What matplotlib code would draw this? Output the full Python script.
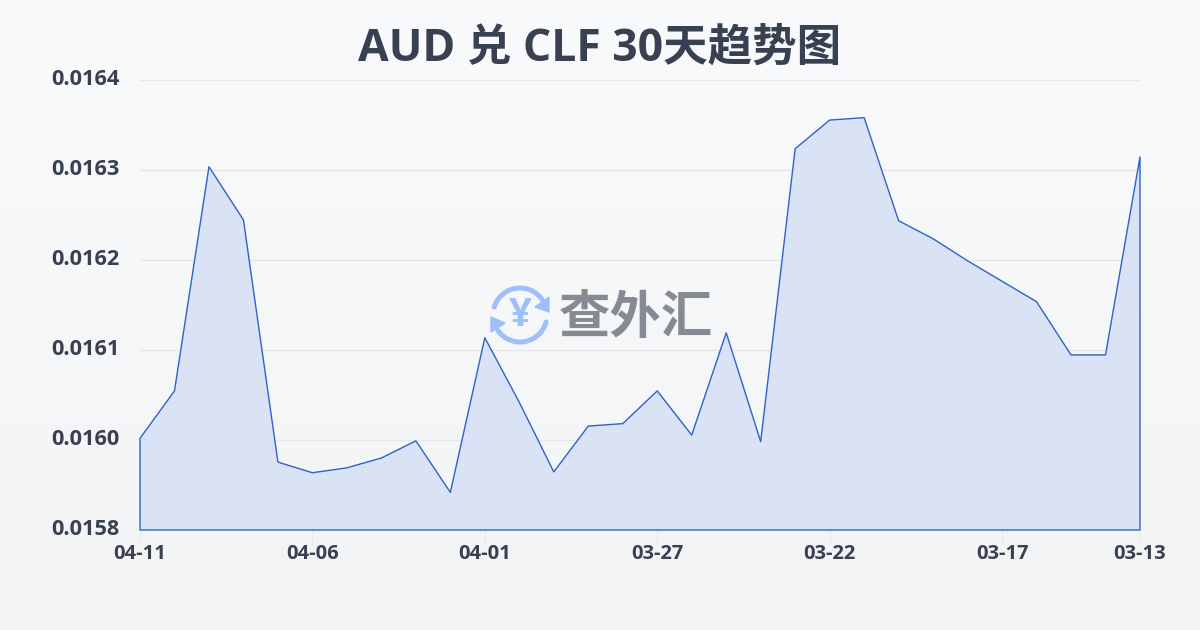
import numpy as np
import matplotlib
matplotlib.use("Agg")
import matplotlib.pyplot as plt
from matplotlib.patches import Polygon
from matplotlib.transforms import ScaledTranslation

plt.rcParams['font.family'] = ['Open Sans', 'Noto Sans CJK SC', 'DejaVu Sans']

TITLE = "AUD 兑 CLF 30天趋势图"
dates = ["04-11", "04-10", "04-09", "04-08", "04-07", "04-06", "04-05", "04-04", "04-03", "04-02",
         "04-01", "03-31", "03-30", "03-29", "03-28", "03-27", "03-26", "03-25", "03-24", "03-23",
         "03-22", "03-21", "03-20", "03-19", "03-18", "03-17", "03-16", "03-15", "03-14", "03-13"]
rates = [0.015952, 0.016010, 0.016284, 0.016219, 0.015923, 0.015910, 0.015916, 0.015928, 0.015949, 0.015886,
         0.016075, 0.015996, 0.015911, 0.015967, 0.015970, 0.016010, 0.015956, 0.016081, 0.015948, 0.016306,
         0.016341, 0.016344, 0.016218, 0.016196, 0.016169, 0.016144, 0.016119, 0.016054, 0.016054, 0.016296]
# evenly spaced ticks, the labels are those values rounded to 4 places
y_ticks = [0.01584, 0.01595, 0.01606, 0.01617, 0.01628, 0.01639]
y_labels = ["0.0158", "0.0160", "0.0161", "0.0162", "0.0163", "0.0164"]

TEXT = "#374151"
LINE = "#2f62c8"
BLUE = "#9dbffa"

W, H = 1200, 630
fig = plt.figure(figsize=(12, 6.3), dpi=100)

# page background
bg = fig.add_axes([0, 0, 1, 1], zorder=0)
bg.set_xlim(0, W)
bg.set_ylim(H, 0)
bg.axis("off")
grad = np.linspace(0, 1, 256).reshape(-1, 1)
c1, c2 = np.array([0xf9, 0xfa, 0xfc]), np.array([0xf3, 0xf4, 0xf6])
bg.imshow((c1 + (c2 - c1) * grad[..., None]) / 255, extent=[0, W, H, 0], aspect="auto")

ax = fig.add_axes([140 / W, (H - 530) / H, 1000 / W, 450 / H], zorder=1)
ax.patch.set_alpha(0)
x = np.arange(len(rates))
ax.fill_between(x, rates, y_ticks[0], facecolor="#dae3f5", edgecolor="none", zorder=2)
ax.fill_between(x, rates, y_ticks[0], facecolor="none", edgecolor=LINE, linewidth=1.0, zorder=3, clip_on=False)
ax.set_xlim(0, len(rates) - 1)
ax.set_ylim(y_ticks[0], y_ticks[-1])

ax.set_yticks(y_ticks)
ax.set_yticklabels(y_labels, fontsize=15.7, fontweight="bold", color=TEXT)
ax.set_xticks(x[::5].tolist() + [x[-1]])
ax.set_xticklabels(dates[::5] + [dates[-1]], fontsize=14.5, fontweight="bold", color=TEXT)
ax.tick_params(axis="y", length=0, pad=14.5)
ax.tick_params(axis="x", length=10, width=0.8, color="#e8eaee", pad=0)
# labels sit a little above their gridlines
for lab in ax.get_yticklabels():
    lab.set_transform(lab.get_transform() + ScaledTranslation(0, 2 / 72, fig.dpi_scale_trans))
ax.grid(axis="y", color="#e5e7eb", linewidth=0.9)
ax.set_axisbelow(True)
for s in ax.spines.values():
    s.set_visible(False)

fig.text(600 / W, 1 - 49 / H, TITLE, ha="center", va="center", fontsize=32, fontweight="bold", color=TEXT)

# watermark logo, on top of the chart in pixel coords
top = fig.add_axes([0, 0, 1, 1], zorder=2)
top.set_xlim(0, W)
top.set_ylim(H, 0)
top.axis("off")
cx, cy, r = 520, 315, 27
def arc(a0, a1):
    t = np.radians(np.linspace(a0, a1, 40))
    top.plot(cx + r * np.cos(t), cy - r * np.sin(t), color=BLUE, lw=3.6, solid_capstyle="round")
arc(163, 35)
arc(-15, -145)
top.add_patch(Polygon([[549, 297], [549, 312], [535, 307]], color=BLUE))
top.add_patch(Polygon([[491, 317], [491, 332], [505, 323]], color=BLUE))
top.text(cx, cy, "¥", ha="center", va="center", fontsize=29, fontweight="bold", color=BLUE)
top.text(636, 320, "查外汇", ha="center", va="center", fontsize=37, fontweight="bold", color="#868a92")

fig.savefig("out.png", dpi=100)
